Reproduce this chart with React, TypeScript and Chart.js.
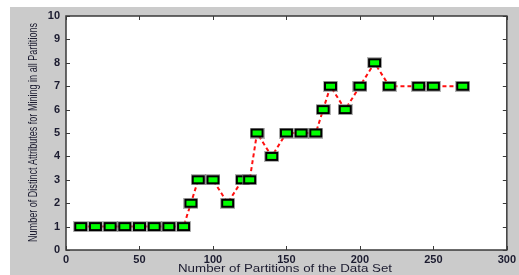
import React, { useEffect, useRef } from "react";
import { Chart, registerables } from "chart.js";

Chart.register(...registerables);

const partitions = [10, 20, 30, 40, 50, 60, 70, 80, 85, 90, 100, 110, 120, 125, 130, 140, 150, 160, 170, 175, 180, 190, 200, 210, 220, 240, 250, 270];
const attributes = [1, 1, 1, 1, 1, 1, 1, 1, 2, 3, 3, 2, 3, 3, 5, 4, 5, 5, 5, 6, 7, 6, 7, 8, 7, 7, 7, 7];
const xTickValues = [0, 50, 100, 150, 200, 250, 300];
const yTickValues = [0, 1, 2, 3, 4, 5, 6, 7, 8, 9, 10];
const xTitle = "Number of Partitions of the Data Set";
const yTitle = "Number of Distinct Attributes for Mining in all Partitions";

const TEXT = "#1c1c30";

function makeMarker(): HTMLCanvasElement {
  const c = document.createElement("canvas");
  c.width = 15;
  c.height = 11;
  const g = c.getContext("2d")!;
  g.fillStyle = "rgba(120,120,120,0.55)";
  g.fillRect(0, 0, 15, 11);
  g.fillStyle = "#000000";
  g.fillRect(1, 1, 13, 9);
  g.fillStyle = "#00ff00";
  g.fillRect(3, 3, 9, 5);
  return c;
}

function fitText(ctx: CanvasRenderingContext2D, text: string, width: number) {
  const w = ctx.measureText(text).width;
  const s = width / w;
  ctx.scale(s, 1);
  ctx.fillText(text, 0, 0);
}

const framePlugin = {
  id: "frame",
  beforeDraw(chart: any) {
    const ctx = chart.ctx as CanvasRenderingContext2D;
    const { left, right, top, bottom } = chart.chartArea;
    ctx.save();
    ctx.fillStyle = "#ffffff";
    ctx.fillRect(0, 0, chart.width, chart.height);
    ctx.fillStyle = "#cbcbcb";
    ctx.fillRect(10, 7, chart.width - 10, chart.height - 7);
    ctx.fillStyle = "#ffffff";
    ctx.fillRect(left, top, right - left, bottom - top);
    ctx.restore();
  },
  beforeDatasetsDraw(chart: any) {
    const ctx = chart.ctx as CanvasRenderingContext2D;
    const { left, right, top, bottom } = chart.chartArea;
    const xs = chart.scales.x;
    const ys = chart.scales.y;
    ctx.save();
    ctx.strokeStyle = "#3a3a3a";
    ctx.lineWidth = 1.5;
    ctx.strokeRect(left, top, right - left, bottom - top);
    ctx.lineWidth = 1;
    ctx.beginPath();
    for (const v of xTickValues) {
      const px = Math.round(xs.getPixelForValue(v)) + 0.5;
      ctx.moveTo(px, bottom);
      ctx.lineTo(px, bottom - 4);
      ctx.moveTo(px, top);
      ctx.lineTo(px, top + 4);
    }
    for (const v of yTickValues) {
      const py = Math.round(ys.getPixelForValue(v)) + 0.5;
      ctx.moveTo(left, py);
      ctx.lineTo(left + 4, py);
      ctx.moveTo(right, py);
      ctx.lineTo(right - 4, py);
    }
    ctx.stroke();
    ctx.restore();
  },
  afterDraw(chart: any) {
    const ctx = chart.ctx as CanvasRenderingContext2D;
    ctx.save();
    ctx.fillStyle = TEXT;
    ctx.font = "11px 'Liberation Sans', Arial, sans-serif";
    ctx.textAlign = "center";
    ctx.textBaseline = "alphabetic";
    ctx.translate(285, 272);
    fitText(ctx, xTitle, 214);
    ctx.restore();

    ctx.save();
    ctx.fillStyle = TEXT;
    ctx.font = "12px 'Liberation Sans', Arial, sans-serif";
    ctx.textAlign = "center";
    ctx.textBaseline = "alphabetic";
    ctx.translate(36.5, 132.5);
    ctx.rotate(-Math.PI / 2);
    fitText(ctx, yTitle, 219);
    ctx.restore();
  },
};

export default function App() {
  const ref = useRef<HTMLCanvasElement>(null);
  useEffect(() => {
    document.body.style.margin = "0";
    const marker = makeMarker();
    const chart = new Chart(ref.current!, {
      type: "line",
      data: {
        datasets: [
          {
            data: partitions.map((x, i) => ({ x, y: attributes[i] })),
            borderColor: "#ff1010",
            borderWidth: 2,
            borderDash: [4, 3],
            pointStyle: marker as any,
            pointRadius: 6,
            pointHoverRadius: 6,
            tension: 0,
            fill: false,
          },
        ],
      },
      options: {
        responsive: false,
        animation: false,
        events: [],
        layout: { padding: { top: 16, right: 11, left: 0, bottom: 0 } },
        plugins: { legend: { display: false }, tooltip: { enabled: false } },
        scales: {
          x: {
            type: "linear",
            min: 0,
            max: 300,
            afterBuildTicks: (s: any) => {
              s.ticks = xTickValues.map((v) => ({ value: v }));
            },
            afterFit: (s: any) => {
              s.height = 25;
            },
            grid: { display: false, drawTicks: false },
            border: { display: false },
            ticks: {
              padding: 3,
              maxRotation: 0,
              autoSkip: false,
              color: TEXT,
              font: { family: "'Liberation Sans', Arial, sans-serif", size: 11, weight: "bold" },
            },
          },
          y: {
            type: "linear",
            min: 0,
            max: 10,
            afterBuildTicks: (s: any) => {
              s.ticks = yTickValues.map((v) => ({ value: v }));
            },
            afterFit: (s: any) => {
              s.width = 66;
            },
            grid: { display: false, drawTicks: false },
            border: { display: false },
            ticks: {
              padding: 6,
              autoSkip: false,
              color: TEXT,
              font: { family: "'Liberation Sans', Arial, sans-serif", size: 11, weight: "bold" },
            },
          },
        },
      },
      plugins: [framePlugin],
    });
    return () => chart.destroy();
  }, []);
  return (
    <div style={{ width: 519, height: 275 }}>
      <canvas ref={ref} width={519} height={275} style={{ display: "block" }} />
    </div>
  );
}
